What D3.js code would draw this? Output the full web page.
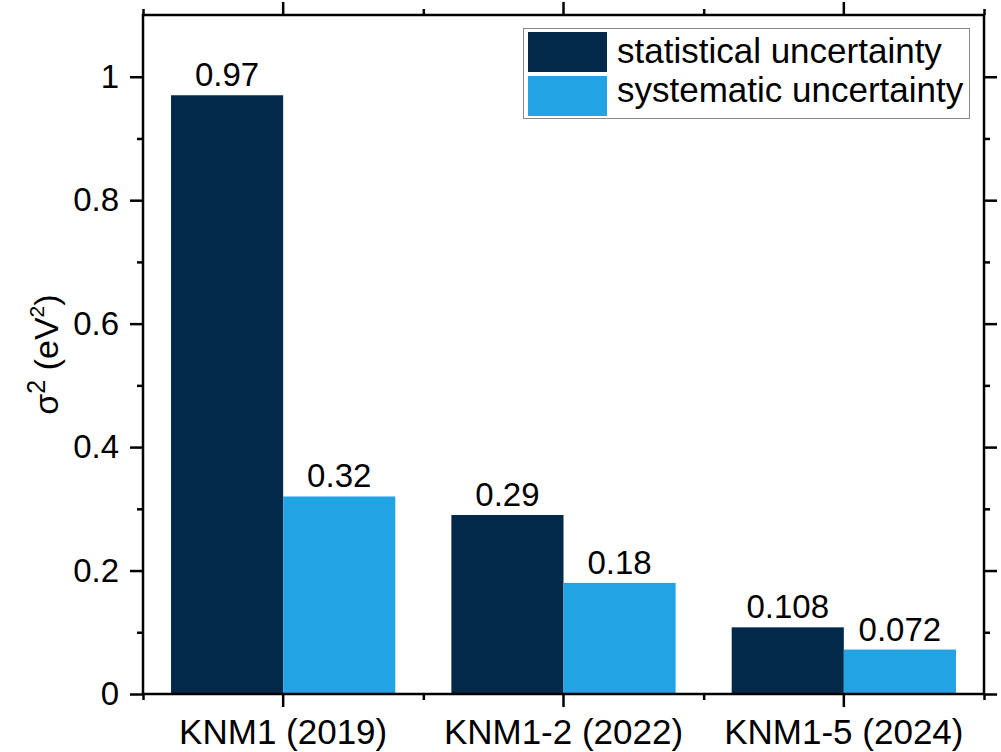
<!DOCTYPE html>
<html>
<head>
<meta charset="utf-8">
<script src="https://cdn.jsdelivr.net/npm/d3@7"></script>
<style>
  html, body { margin: 0; padding: 0; background: #fff; }
  svg { display: block; font-family: "Liberation Sans", Arial, sans-serif; }
</style>
</head>
<body>
<svg id="chart" width="1001" height="752"></svg>
<script>
// Measurement campaigns and their uncertainty contributions (eV^2)
const campaigns = ["KNM1 (2019)", "KNM1-2 (2022)", "KNM1-5 (2024)"];
const seriesNames = ["statistical uncertainty", "systematic uncertainty"];
const statistical = [0.97, 0.29, 0.108];
const systematic = [0.32, 0.18, 0.072];
const valueLabels = [["0.97", "0.32"], ["0.29", "0.18"], ["0.108", "0.072"]];
const yMajorTicks = [0, 0.2, 0.4, 0.6, 0.8, 1];
const yMinorTicks = [0.1, 0.3, 0.5, 0.7, 0.9];
const colors = ["#03294a", "#22a4e4"];
const fontFamily = "'Liberation Sans', Arial, sans-serif";

const svg = d3.select("#chart");
const plotLeft = 143, plotRight = 984, plotTop = 15, plotBottom = 694;

const x = d3.scaleBand().domain(campaigns).range([plotLeft, plotRight]).paddingInner(0).paddingOuter(0);
const bw = x.bandwidth();
const x1 = d3.scaleBand().domain(seriesNames).range([bw * 0.1, bw * 0.9]).padding(0);
const y = d3.scaleLinear().domain([0, 1.1]).range([plotBottom, plotTop]);

const table = campaigns.map((c, i) => ({
  campaign: c,
  values: [
    { series: seriesNames[0], value: statistical[i], label: valueLabels[i][0] },
    { series: seriesNames[1], value: systematic[i], label: valueLabels[i][1] }
  ]
}));

// Bars
const groups = svg.append("g").selectAll("g").data(table).join("g")
  .attr("transform", d => `translate(${x(d.campaign)},0)`);

groups.selectAll("rect").data(d => d.values).join("rect")
  .attr("x", d => x1(d.series))
  .attr("width", x1.bandwidth())
  .attr("y", d => y(d.value))
  .attr("height", d => y(0) - y(d.value))
  .attr("fill", (d, i) => colors[i]);

groups.selectAll("text").data(d => d.values).join("text")
  .attr("x", d => x1(d.series) + x1.bandwidth() / 2)
  .attr("y", d => y(d.value) - 9)
  .attr("text-anchor", "middle")
  .attr("font-size", 33)
  .attr("fill", "#000")
  .text(d => d.label);

// Axes
const axisStyle = g => {
  g.attr("font-family", fontFamily);
  g.select(".domain").remove();
  g.selectAll(".tick line").attr("stroke", "#000").attr("stroke-width", 2.5);
  g.selectAll(".tick text").attr("fill", "#000");
};

const boundaries = campaigns.map(c => x(c)).concat([plotRight]);

// left
svg.append("g").attr("transform", `translate(${plotLeft},0)`)
  .call(d3.axisLeft(y).tickValues(yMajorTicks).tickSize(13).tickPadding(11)
    .tickFormat(d => d === 0 || d === 1 ? d3.format("d")(d) : d3.format(".1f")(d)))
  .call(axisStyle)
  .call(g => g.selectAll(".tick text").attr("font-size", 33));
svg.append("g").attr("transform", `translate(${plotLeft},0)`)
  .call(d3.axisLeft(y).tickValues(yMinorTicks).tickSize(6).tickFormat(""))
  .call(axisStyle);

// right
svg.append("g").attr("transform", `translate(${plotRight},0)`)
  .call(d3.axisRight(y).tickValues(yMajorTicks).tickSize(13).tickFormat(""))
  .call(axisStyle);
svg.append("g").attr("transform", `translate(${plotRight},0)`)
  .call(d3.axisRight(y).tickValues(yMinorTicks).tickSize(6).tickFormat(""))
  .call(axisStyle);

// bottom
svg.append("g").attr("transform", `translate(0,${plotBottom})`)
  .call(d3.axisBottom(x).tickSize(13).tickPadding(12))
  .call(axisStyle)
  .call(g => g.selectAll(".tick text").attr("font-size", 35));
const xLin = d3.scaleIdentity();
svg.append("g").attr("transform", `translate(0,${plotBottom})`)
  .call(d3.axisBottom(xLin).tickValues(boundaries).tickSize(6).tickFormat(""))
  .call(axisStyle);

// top
svg.append("g").attr("transform", `translate(0,${plotTop})`)
  .call(d3.axisTop(x).tickSize(13).tickFormat(""))
  .call(axisStyle);
svg.append("g").attr("transform", `translate(0,${plotTop})`)
  .call(d3.axisTop(xLin).tickValues(boundaries).tickSize(6).tickFormat(""))
  .call(axisStyle);

// frame
svg.append("rect")
  .attr("x", plotLeft).attr("y", plotTop)
  .attr("width", plotRight - plotLeft).attr("height", plotBottom - plotTop)
  .attr("fill", "none").attr("stroke", "#000").attr("stroke-width", 2.5);

// Y axis title
const yTitle = svg.append("text")
  .attr("transform", `translate(58,${(plotTop + plotBottom) / 2}) rotate(-90)`)
  .attr("text-anchor", "middle")
  .attr("font-size", 34)
  .attr("fill", "#000");
yTitle.append("tspan").text("σ");
yTitle.append("tspan").attr("font-size", 25).attr("dy", -13).text("2");
yTitle.append("tspan").attr("dy", 13).text(" (eV");
yTitle.append("tspan").attr("font-size", 21).attr("dy", -14).text("2");
yTitle.append("tspan").attr("dy", 14).text(")");

// Legend
const legend = svg.append("g");
legend.append("rect")
  .attr("x", 523.5).attr("y", 28.5).attr("width", 446).attr("height", 90)
  .attr("fill", "#fff").attr("stroke", "#888").attr("stroke-width", 1);
const legendRows = [{ y: 32, base: 63 }, { y: 76, base: 102 }];
seriesNames.forEach((name, i) => {
  legend.append("rect")
    .attr("x", 528).attr("y", legendRows[i].y).attr("width", 79).attr("height", 40)
    .attr("fill", colors[i]);
  legend.append("text")
    .attr("x", 617).attr("y", legendRows[i].base)
    .attr("font-size", 35).attr("fill", "#000")
    .text(name);
});
</script>
</body>
</html>
